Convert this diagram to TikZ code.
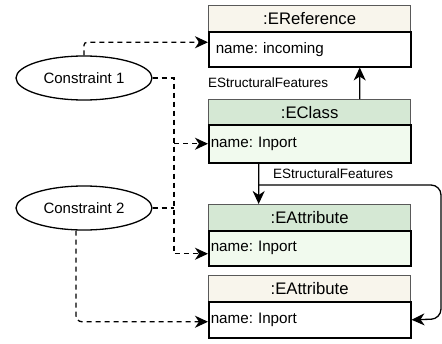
\documentclass[tikz,border=0pt]{standalone}
\usepackage{fontspec}
\setmainfont{Liberation Sans}
\frenchspacing
\usetikzlibrary{shapes.geometric,arrows.meta}
\definecolor{hdrbeige}{HTML}{F8F5EC}
\definecolor{hdrgreen}{HTML}{D5E8D4}
\definecolor{bodygreen}{HTML}{F1FAEE}
\begin{document}
\begin{tikzpicture}[x=1pt,y=-1pt,
  hdr/.style={draw=black!65, line width=1.3pt, minimum width=202pt, minimum height=26pt,
    anchor=north west, inner sep=0pt, font=\fontsize{16.7}{18}\selectfont},
  bodybox/.style={draw=black, line width=1.5pt, anchor=north west, text width=198pt,
    inner xsep=2pt, inner ysep=0pt, minimum height=35pt, align=left,
    font=\fontsize{15.2}{17}\selectfont},
  cons/.style={draw, ellipse, line width=1.3pt, minimum width=136pt, minimum height=44pt,
    inner sep=0pt, font=\fontsize{15}{17}\selectfont},
  lbl/.style={anchor=west, inner sep=0pt, font=\fontsize{13.5}{15}\selectfont},
  arr/.style={line width=1.3pt, -{Stealth[length=13pt,width=12pt,inset=4pt]}},
  dashline/.style={line width=1.3pt, dash pattern=on 5pt off 4pt},
  dasharr/.style={arr, dash pattern=on 5pt off 4pt}]
\useasboundingbox (0,0) rectangle (442,343);

% class boxes: header + attribute compartment
\node[hdr, fill=hdrbeige] (refH) at (208,5) {:EReference};
\node[bodybox, fill=white, inner xsep=7pt, text width=188pt] (refB) at (208,31) {name: incoming};
\node[hdr, fill=hdrgreen] (clsH) at (208,99) {:EClass};
\node[bodybox, fill=bodygreen, minimum height=38pt] (clsB) at (208,124) {name: Inport};
\node[hdr, fill=hdrgreen] (a1H) at (208,204) {:EAttribute};
\node[bodybox, fill=bodygreen] (a1B) at (208,230) {name: Inport};
\node[hdr, fill=hdrbeige] (a2H) at (208,275) {:EAttribute};
\node[bodybox, fill=white, minimum height=36pt] (a2B) at (208,301) {name: Inport};

% constraints
\node[cons] (c1) at (84,78) {Constraint 1};
\node[cons] (c2) at (84,208) {Constraint 2};

% structural feature links
\draw[arr] ([xshift=50pt]clsH.north) -- ([xshift=50pt]refB.south);
\draw[arr] ([xshift=-51pt]clsB.south) -- ([xshift=-51pt]a1H.north);
\coordinate (split) at (258,185);
\draw[arr, rounded corners=10pt] (split) -- (441,185) -- (441,319) -- (a2B.east);
\node[lbl] (l1) at (208,83) {EStructuralFeatures};
\node[lbl] (l2) at (273,174) {EStructuralFeatures};

% constraint references
\coordinate (bus) at (174,0);
\coordinate (a1in) at ([yshift=-5.5pt]a1B.west);
\coordinate (busCls) at (bus |- clsB.west);
\draw[dasharr, rounded corners=3pt] (c1.north) |- ([yshift=7pt]refB.west);
\draw[dasharr] (c1.east) -| (bus |- a1in) -- (a1in);
\draw[dasharr] (busCls) -- (clsB.west);
\draw[dashline] (c2.east) -- (c2.east -| bus);
\draw[dasharr, rounded corners=6pt] ([xshift=-8pt]c2.south) |- ([yshift=-2pt]a2B.west);
\end{tikzpicture}
\end{document}
